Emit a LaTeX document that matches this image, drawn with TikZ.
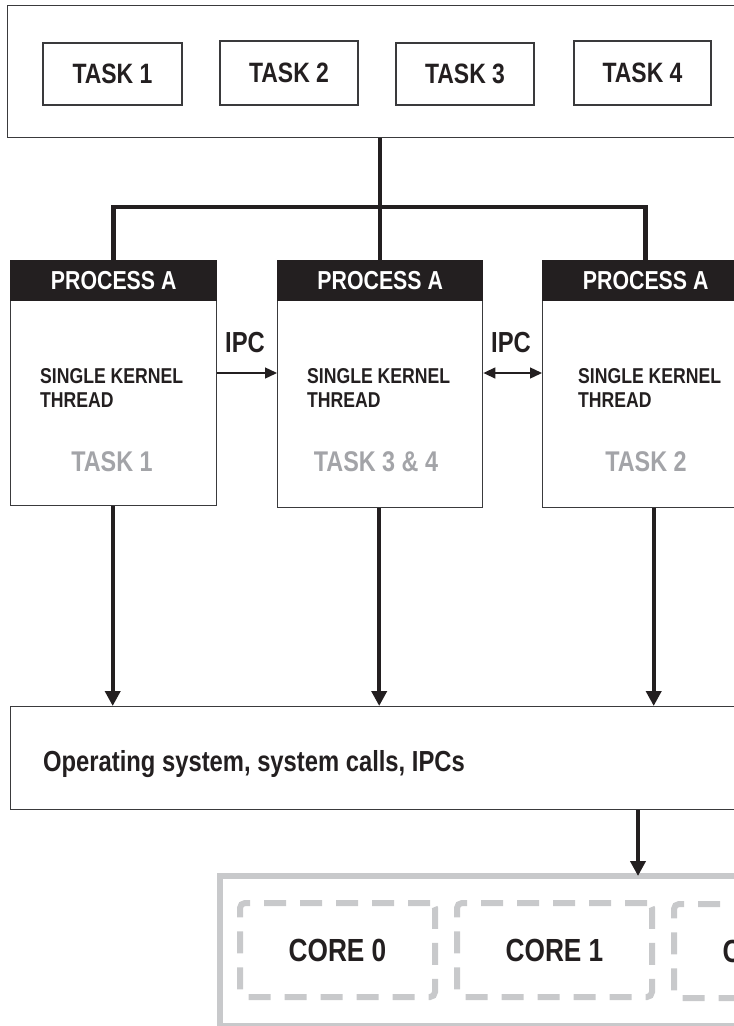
\documentclass[tikz,border=0pt]{standalone}
\usepackage{fontspec}
\setmainfont{Liberation Sans}[FakeStretch=0.82]
\usetikzlibrary{arrows.meta}
\definecolor{ink}{HTML}{231F20}
\definecolor{frameink}{HTML}{3A3A3C}
\definecolor{coregray}{HTML}{C8C9CB}
\definecolor{taskgray}{HTML}{A3A4A8}
\newcommand\sz[1]{\fontsize{#1}{#1}\selectfont\bfseries}

\begin{document}
\begin{tikzpicture}[x=1pt,y=-1pt,
  frame/.style={draw=frameink, line width=1.4pt, rectangle, inner sep=0pt, anchor=north west},
  taskbox/.style={draw=frameink, line width=1.4pt, rectangle, inner sep=0pt, font=\sz{28}, text=ink},
  header/.style={fill=ink, draw=ink, line width=1.4pt, rectangle, inner sep=0pt, anchor=north west,
                 minimum height=40pt, font=\sz{26}, text=white},
  thread/.style={anchor=north west, inner sep=0pt, align=left, font=\fontsize{21.5}{24}\selectfont\bfseries, text=ink},
  gtask/.style={inner sep=0pt, font=\sz{28.5}, text=taskgray},
  ipc/.style={inner sep=0pt, font=\sz{29}, text=ink},
  link/.style={draw=ink, line width=4.5pt},
  down/.style={draw=ink, line width=4pt, -{Triangle[width=15pt,length=15pt]}},
  thin/.style={draw=ink, line width=1.4pt},
  corebox/.style={draw=coregray, line width=6pt, rounded corners=5pt,
                  dash pattern=on 22pt off 14pt, rectangle, minimum width=195pt,
                  minimum height=94pt, inner sep=0pt, font=\sz{32}, text=ink}
]
\useasboundingbox (0,0) rectangle (734,1026);
\clip (0,0) rectangle (734,1026);

% ---- task set ----
\node[frame, minimum width=760pt, minimum height=132pt] (top) at (7,5) {};
\node[taskbox, minimum width=139pt, minimum height=62pt] (t1) at (112.5,74) {TASK 1};
\node[taskbox, minimum width=138pt, minimum height=64pt] (t2) at (289,73)  {TASK 2};
\node[taskbox, minimum width=138pt, minimum height=62pt] (t3) at (465,74)  {TASK 3};
\node[taskbox, minimum width=137pt, minimum height=64pt] (t4) at (642.5,73) {TASK 4};

% ---- processes ----
\node[frame, minimum width=206pt, minimum height=245pt] (p1) at (10,260) {};
\node[frame, minimum width=205pt, minimum height=247pt] (p2) at (277,260) {};
\node[frame, minimum width=206pt, minimum height=247pt] (p3) at (542,260) {};
\node[header, minimum width=206pt] (h1) at (10,260)  {PROCESS A};
\node[header, minimum width=205pt] (h2) at (277,260) {PROCESS A};
\node[header, minimum width=206pt] (h3) at (542,260) {PROCESS A};

\node[thread] (k1) at (40,368)  {SINGLE KERNEL\\THREAD};
\node[thread] (k2) at (307,368) {SINGLE KERNEL\\THREAD};
\node[thread] (k3) at (578,368) {SINGLE KERNEL\\THREAD};

\node[gtask] (g1) at (112,462) {TASK 1};
\node[gtask] (g2) at (376,462) {TASK 3 \& 4};
\node[gtask] (g3) at (646,462) {TASK 2};

\node[ipc] (ipc1) at (245,343) {IPC};
\node[ipc] (ipc2) at (511,343) {IPC};

% ---- operating system and cores ----
\node[frame, minimum width=760pt, minimum height=103pt] (os) at (10,706) {};
\node[anchor=base west, inner sep=0pt, font=\sz{29}, text=ink] (ostext) at (43,771)
  {Operating system, system calls, IPCs};

\node[draw=coregray, line width=6pt, rectangle, inner sep=0pt, anchor=north west,
      minimum width=600pt, minimum height=150pt] (cpu) at (217,873) {};
\node[corebox] (c0) at (337.5,950) {CORE 0};
\node[corebox] (c1) at (554.5,950) {CORE 1};
\node[corebox] (c2) at (771.5,951) {CORE 2};

% ---- connectors ----
\coordinate (bar) at (0,207);
\coordinate (osx) at (638,0);
\coordinate (ipcy) at (0,373);
\draw[link] (top.south -| h2.north) -- (h2.north);
\draw[link, line join=miter] (h1.north) -- (h1.north |- bar) -- (h3.north |- bar) -- (h3.north);

\draw[thin, -{Triangle[width=11pt,length=12pt]}] (p1.east |- ipcy) -- (p2.west |- ipcy);
\draw[thin, {Triangle[width=11pt,length=12pt]}-{Triangle[width=11pt,length=12pt]}]
  (p2.east |- ipcy) -- (p3.west |- ipcy);

\draw[down] ([xshift=-1pt]p1.south) -- ([xshift=-1pt]p1.south |- os.north);
\draw[down] ([xshift=-1pt]p2.south) -- ([xshift=-1pt]p2.south |- os.north);
\draw[down] ([xshift=8pt]p3.south) -- ([xshift=8pt]p3.south |- os.north);
\draw[down] (os.south -| osx) -- ([yshift=-3pt]cpu.north -| osx);
\end{tikzpicture}
\end{document}
